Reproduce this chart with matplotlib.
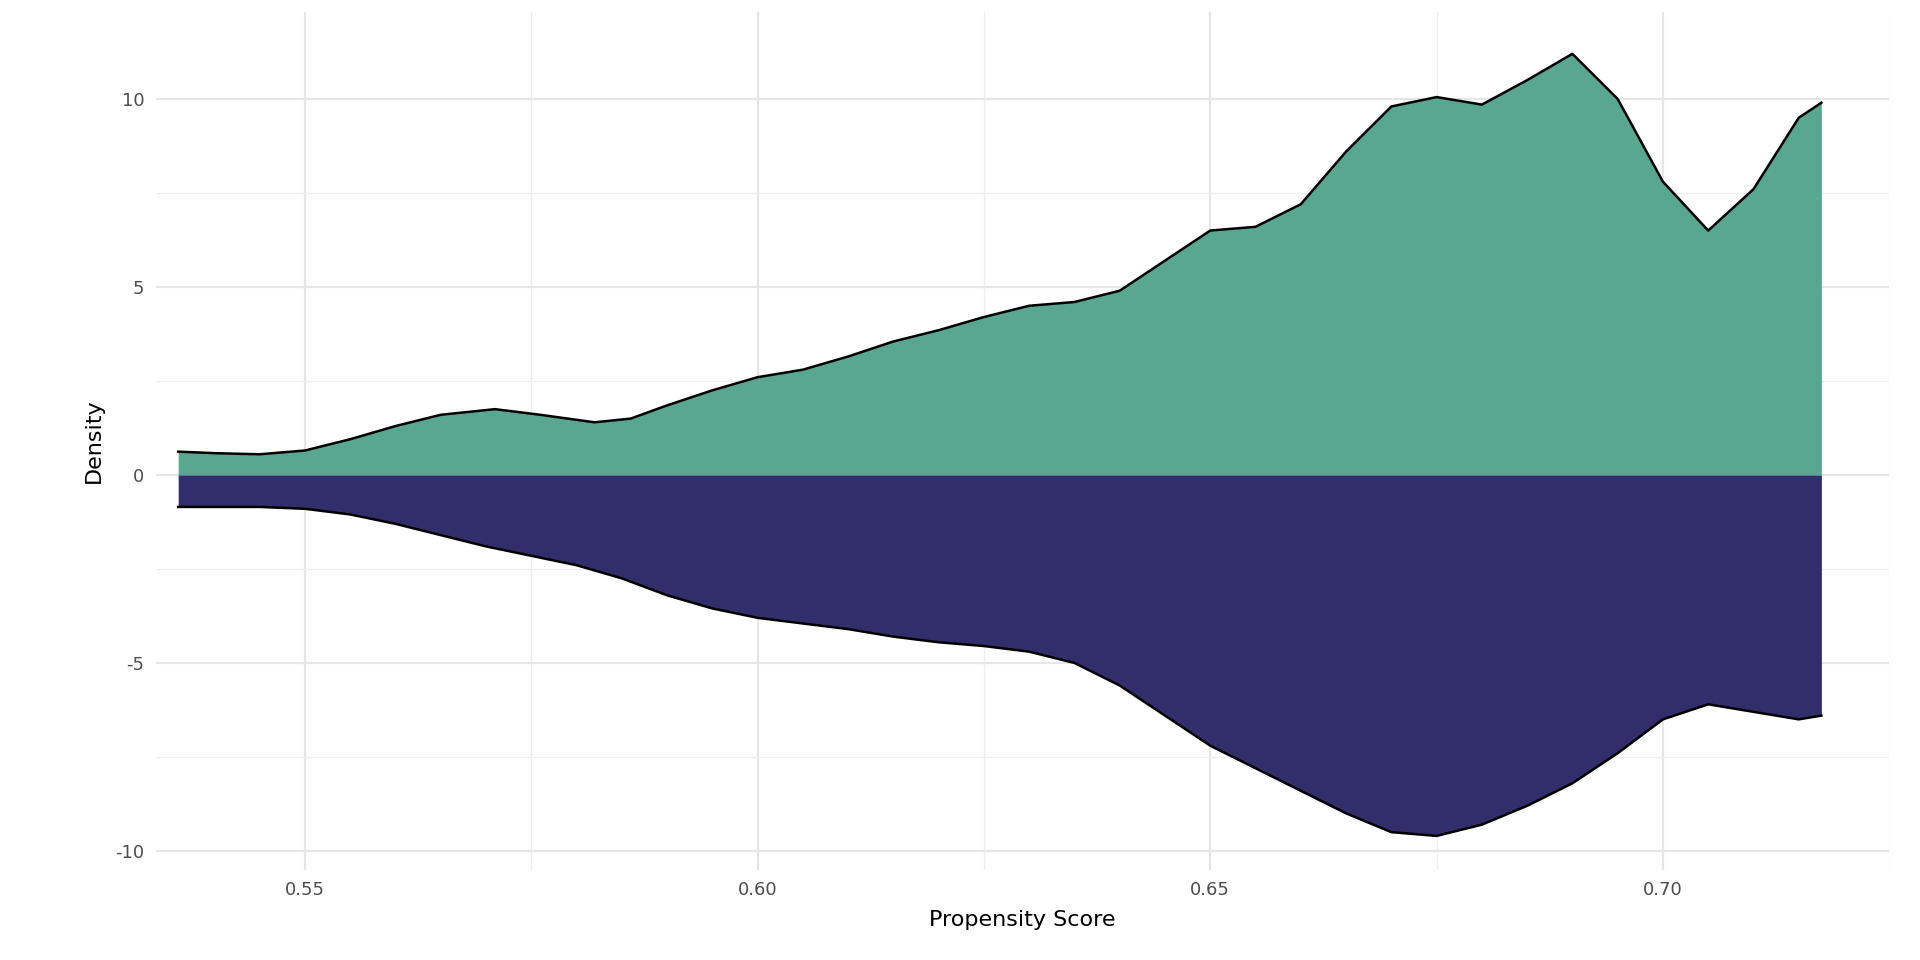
"""Mirrored density plot of propensity scores"""

import matplotlib.pyplot as plt

score_top = [0.536, 0.540, 0.545, 0.550, 0.555, 0.560, 0.565, 0.571, 0.576, 0.582, 0.586, 0.590, 0.595,
             0.600, 0.605, 0.610, 0.615, 0.620, 0.625, 0.630, 0.635, 0.640, 0.645, 0.650, 0.655,
             0.660, 0.665, 0.670, 0.675, 0.680, 0.685, 0.690, 0.695, 0.700, 0.705, 0.710, 0.715, 0.7175]
dens_top = [0.62, 0.58, 0.55, 0.65, 0.95, 1.3, 1.6, 1.75, 1.6, 1.4, 1.5, 1.85, 2.25,
            2.6, 2.8, 3.15, 3.55, 3.85, 4.2, 4.5, 4.6, 4.9, 5.7, 6.5, 6.6,
            7.2, 8.6, 9.8, 10.05, 9.85, 10.5, 11.2, 10.0, 7.8, 6.5, 7.6, 9.5, 9.9]

score_bot = [0.536, 0.540, 0.545, 0.550, 0.555, 0.560, 0.565, 0.570, 0.575, 0.580, 0.585, 0.590, 0.595,
             0.600, 0.605, 0.610, 0.615, 0.620, 0.625, 0.630, 0.635, 0.640, 0.645, 0.650, 0.655,
             0.660, 0.665, 0.670, 0.675, 0.680, 0.685, 0.690, 0.695, 0.700, 0.705, 0.710, 0.715, 0.7175]
dens_bot = [-0.85, -0.85, -0.85, -0.9, -1.05, -1.3, -1.6, -1.9, -2.15, -2.4, -2.75, -3.2, -3.55,
            -3.8, -3.95, -4.1, -4.3, -4.45, -4.55, -4.7, -5.0, -5.6, -6.4, -7.2, -7.8,
            -8.4, -9.0, -9.5, -9.6, -9.3, -8.8, -8.2, -7.4, -6.5, -6.1, -6.3, -6.5, -6.4]


def main():
    fig = plt.figure(figsize=(19.2, 9.6), dpi=100)
    ax = fig.add_axes([0.081, 0.094, 0.903, 0.893])
    ax.fill_between(score_top, 0, dens_top, color="#59a791", lw=0)
    ax.fill_between(score_bot, 0, dens_bot, color="#312e6b", lw=0)
    ax.plot(score_top, dens_top, color="black", lw=1.8)
    ax.plot(score_bot, dens_bot, color="black", lw=1.8)
    ax.plot([score_top[0]] * 2, [0, dens_top[0]], color="#59a791", lw=0)
    ax.set_xlim(0.5335, 0.725)
    ax.set_ylim(-10.5, 12.3)
    ax.set_xticks([0.55, 0.60, 0.65, 0.70], ["0.55", "0.60", "0.65", "0.70"])
    ax.set_yticks([-10, -5, 0, 5, 10], ["-10", "-5", "0", "5", "10"])
    ax.set_xticks([0.575, 0.625, 0.675, 0.725], minor=True)
    ax.set_yticks([-7.5, -2.5, 2.5, 7.5], minor=True)
    ax.grid(which="major", color="#e6e6e6", lw=1.6)
    ax.grid(which="minor", color="#eeeeee", lw=0.9)
    ax.set_axisbelow(True)
    for s in ax.spines.values():
        s.set_visible(False)
    ax.tick_params(which="both", length=0, labelsize=13, labelcolor="#4d4d4d", pad=8)
    ax.set_xlabel("Propensity Score", fontsize=16, labelpad=8)
    ax.set_ylabel("Density", fontsize=16, labelpad=8)
    fig.savefig("out.png")


main()
